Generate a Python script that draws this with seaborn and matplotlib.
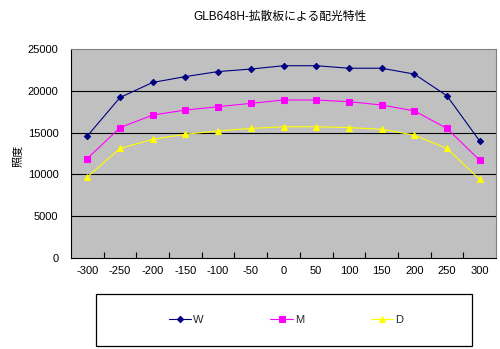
import numpy as np
import pandas as pd
import matplotlib
matplotlib.use("Agg")
import matplotlib.pyplot as plt
from matplotlib.patches import Rectangle
from matplotlib.ticker import FixedLocator
import seaborn as sns

categories = [-300, -250, -200, -150, -100, -50, 0, 50, 100, 150, 200, 250, 300]
W = [14600, 19200, 21000, 21700, 22300, 22600, 23000, 23000, 22700, 22700, 22000, 19400, 14000]
M = [11900, 15600, 17100, 17700, 18100, 18500, 18900, 18900, 18700, 18300, 17600, 15500, 11700]
D = [9700, 13100, 14200, 14800, 15200, 15500, 15700, 15700, 15600, 15400, 14700, 13100, 9400]
series_names = ["W", "M", "D"]
title = "GLB648H-拡散板による配光特性"
ylabel = "照度"
yticks = [0, 5000, 10000, 15000, 20000, 25000]

sns.set_theme(style="white")
plt.rcParams['font.family'] = ['Liberation Sans', 'Noto Sans CJK JP', 'DejaVu Sans']

pos = np.arange(len(categories))
rows = []
for name, vals in zip(series_names, [W, M, D]):
    for p, v in zip(pos, vals):
        rows.append({"pos": p, "value": v, "series": name})
df = pd.DataFrame(rows)

fig = plt.figure(figsize=(5.0, 3.49), dpi=100)
ax = fig.add_axes([71/500, 1-258/349, 425/500, 209/349])
ax.set_facecolor("#c0c0c0")

palette = {"W": "#000080", "M": "#ff00ff", "D": "#ffff00"}
markers = {"W": "D", "M": "s", "D": "^"}
sizes = {"W": 3.2, "M": 4.6, "D": 4.6}
for name in series_names:
    sub = df[df.series == name]
    sns.lineplot(data=sub, x="pos", y="value", ax=ax, color=palette[name],
                 marker=markers[name], markersize=sizes[name],
                 markeredgecolor=palette[name], markerfacecolor=palette[name],
                 linewidth=0.8, label=name, legend=False)

ax.set_xlim(-0.5, len(categories) - 0.5)
ax.set_ylim(0, 25000)
ax.set_yticks(yticks)
ax.set_yticklabels([str(t) for t in yticks])
ax.set_xticks(pos)
ax.set_xticklabels([str(c) for c in categories])
ax.xaxis.set_minor_locator(FixedLocator(np.arange(0.5, len(categories) - 1, 1.0)))
ax.tick_params(axis='x', which='major', length=0, pad=6, labelsize=8, colors='black')
ax.tick_params(axis='x', which='minor', length=4, width=0.8, direction='in', color='black', bottom=True)
ax.tick_params(axis='y', which='major', length=0, pad=9, labelsize=8, colors='black')

ax.grid(False)
for t in yticks[1:-1]:
    ax.axhline(t, color='black', linewidth=0.8, zorder=1)

ax.spines['left'].set_color('black')
ax.spines['bottom'].set_color('black')
ax.spines['top'].set_color('#808080')
ax.spines['right'].set_color('#808080')
for s in ax.spines.values():
    s.set_linewidth(0.8)
    s.set_visible(True)

ax.set_xlabel("")
ax.set_ylabel(ylabel, fontsize=8, color='black', rotation=90)
ax.yaxis.set_label_coords(-0.115, 0.49)

fig.text(0.56, 1 - 17/349, title, ha='center', va='center', fontsize=8.5, color='black')

# legend box
fig.patches.append(Rectangle((96/500, 3/349), 376/500, 52/349, transform=fig.transFigure,
                             facecolor='white', edgecolor='black', linewidth=0.9, zorder=0))
handles, labels = ax.get_legend_handles_labels()
leg = fig.legend(handles, labels, loc='center', bbox_to_anchor=(0.572, 1 - 320/349),
                 ncol=3, frameon=False, fontsize=8, handlelength=2.0,
                 handletextpad=0.2, columnspacing=6.0)

fig.savefig("out.png", dpi=100, facecolor='white')
